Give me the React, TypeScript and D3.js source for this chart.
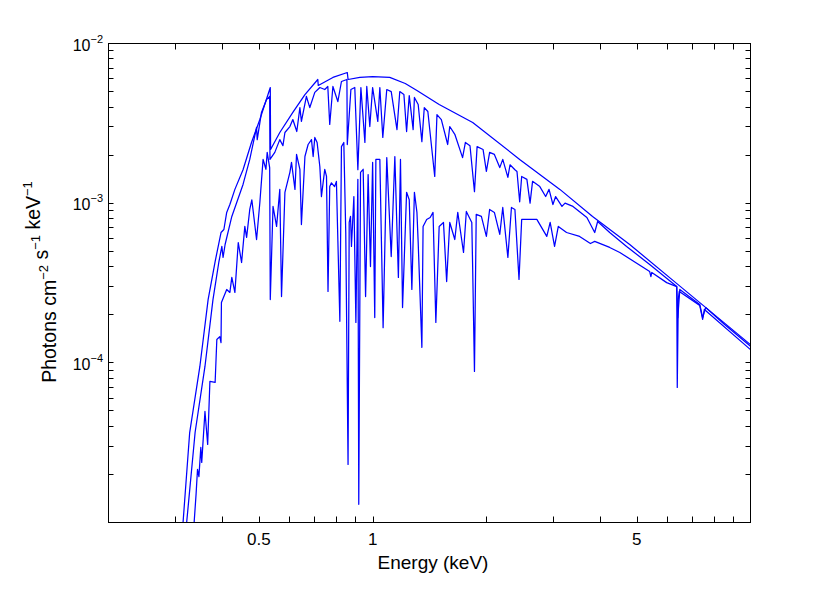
import React, { useEffect, useRef } from 'react';
import * as d3 from 'd3';

// absorbed continuum (no lines) - energy in keV, flux in photons/cm2/s/keV
const contE = [0.311, 0.315, 0.328, 0.349, 0.367, 0.383, 0.397, 0.404, 0.411, 0.419, 0.432, 0.454, 0.478, 0.503, 0.536,
  0.537, 0.568, 0.615, 0.662, 0.716, 0.718, 0.785, 0.857, 0.861, 0.925, 1.0, 1.11, 1.22, 1.31, 1.50, 1.84, 2.45, 3.13,
  3.82, 4.79, 6.42, 10.0];
const contF = [7.84e-6, 1.0e-5, 3.66e-5, 9.49e-5, 2.49e-4, 4.31e-4, 6.55e-4, 6.84e-4, 8.75e-4, 9.81e-4, 1.22e-3, 1.62e-3,
  2.40e-3, 3.34e-3, 5.30e-3, 2.17e-3, 2.77e-3, 3.70e-3, 4.79e-3, 5.95e-3, 5.46e-3, 6.13e-3, 6.58e-3, 5.95e-3, 6.13e-3,
  6.21e-3, 6.13e-3, 5.62e-3, 5.08e-3, 4.15e-3, 3.20e-3, 1.88e-3, 1.22e-3, 8.26e-4, 5.51e-4, 3.10e-4, 1.30e-4];

// spectrum with weak absorption lines
const weakE = [0.318, 0.322, 0.339, 0.360, 0.378, 0.392, 0.399, 0.402, 0.407, 0.424, 0.454, 0.473, 0.493, 0.495, 0.508,
  0.524, 0.534, 0.535, 0.551, 0.568, 0.579, 0.586, 0.604, 0.615, 0.630, 0.642, 0.648, 0.668, 0.682, 0.703, 0.716, 0.725,
  0.747, 0.761, 0.770, 0.785, 0.809, 0.827, 0.855, 0.857, 0.876, 0.897, 0.914, 0.931, 0.954, 0.965, 0.983, 1.00, 1.032,
  1.045, 1.064, 1.09, 1.12, 1.16, 1.18, 1.21, 1.23, 1.25, 1.28, 1.29, 1.32, 1.35, 1.37, 1.40, 1.46, 1.48, 1.52, 1.58,
  1.60, 1.65, 1.73, 1.76, 1.81, 1.86, 1.89, 1.96, 2.00, 2.04, 2.10, 2.17, 2.21, 2.28, 2.31, 2.38, 2.41, 2.45, 2.48, 2.56,
  2.61, 2.65, 2.77, 2.87, 2.93, 3.00, 3.05, 3.17, 3.23, 3.39, 3.69, 3.87, 3.94, 4.24, 4.70, 5.41, 6.38, 6.42, 6.50, 7.34,
  7.47, 7.61, 8.54, 10.0];
const weakF = [7.84e-6, 1.0e-5, 3.66e-5, 9.49e-5, 2.49e-4, 4.31e-4, 5.36e-4, 4.57e-4, 5.51e-4, 8.26e-4, 1.31e-3, 1.88e-3,
  2.98e-3, 2.50e-3, 3.70e-3, 4.46e-3, 4.66e-3, 1.88e-3, 2.08e-3, 2.50e-3, 2.29e-3, 2.77e-3, 3.02e-3, 3.34e-3, 2.81e-3,
  3.97e-3, 3.25e-3, 4.66e-3, 3.97e-3, 4.94e-3, 5.15e-3, 5.30e-3, 5.15e-3, 5.38e-3, 3.11e-3, 5.38e-3, 4.33e-3, 5.78e-3,
  5.95e-3, 2.33e-3, 5.15e-3, 5.30e-3, 1.62e-3, 5.30e-3, 2.40e-3, 5.38e-3, 3.02e-3, 5.30e-3, 3.25e-3, 5.30e-3, 2.58e-3,
  5.15e-3, 5.00e-3, 2.89e-3, 5.00e-3, 4.79e-3, 2.81e-3, 4.72e-3, 2.89e-3, 4.59e-3, 4.15e-3, 2.43e-3, 3.97e-3, 3.75e-3,
  1.47e-3, 3.59e-3, 3.34e-3, 2.33e-3, 3.02e-3, 2.70e-3, 1.93e-3, 2.40e-3, 2.29e-3, 1.18e-3, 2.26e-3, 2.17e-3, 1.58e-3,
  2.08e-3, 2.02e-3, 1.67e-3, 1.88e-3, 1.45e-3, 1.74e-3, 1.62e-3, 1.58e-3, 1.02e-3, 1.47e-3, 1.41e-3, 1.00e-3, 1.37e-3,
  1.27e-3, 1.10e-3, 1.22e-3, 9.81e-4, 1.10e-3, 9.54e-4, 1.00e-3, 9.54e-4, 8.14e-4, 6.55e-4, 7.68e-4, 6.55e-4, 5.36e-4,
  4.13e-4, 3.01e-4, 1.92e-4, 2.88e-4, 2.32e-4, 1.92e-4, 2.22e-4, 1.74e-4, 1.27e-4];

// spectrum with strong absorption lines
const strongE = [0.335, 0.337, 0.341, 0.344, 0.347, 0.351, 0.353, 0.360, 0.366, 0.371, 0.383, 0.387, 0.394, 0.397, 0.398,
  0.411, 0.419, 0.424, 0.432, 0.441, 0.450, 0.459, 0.464, 0.473, 0.479, 0.493, 0.503, 0.513, 0.522, 0.526, 0.534, 0.536,
  0.545, 0.551, 0.557, 0.568, 0.574, 0.586, 0.604, 0.610, 0.623, 0.629, 0.642, 0.648, 0.662, 0.675, 0.689, 0.696, 0.703,
  0.713, 0.725, 0.732, 0.747, 0.755, 0.762, 0.770, 0.778, 0.793, 0.802, 0.819, 0.827, 0.839, 0.849, 0.861, 0.867, 0.874,
  0.879, 0.892, 0.903, 0.914, 0.919, 0.929, 0.944, 0.958, 0.973, 0.987, 1.00, 1.013, 1.02, 1.045, 1.066, 1.09, 1.12,
  1.145, 1.17, 1.185, 1.20, 1.23, 1.25, 1.27, 1.29, 1.31, 1.32, 1.35, 1.36, 1.39, 1.42, 1.445, 1.47, 1.50, 1.54, 1.57,
  1.60, 1.65, 1.68, 1.74, 1.77, 1.83, 1.84, 1.86, 1.88, 1.94, 2.00, 2.04, 2.10, 2.17, 2.21, 2.28, 2.33, 2.38, 2.44, 2.48,
  2.72, 2.89, 2.95, 3.03, 3.10, 3.26, 3.53, 3.77, 3.87, 4.24, 4.51, 5.41, 5.45, 5.48, 6.00, 6.38, 6.40, 6.44, 6.48, 7.34,
  7.47, 7.55, 10.0];
const strongF = [7.29e-6, 1.0e-5, 1.50e-5, 2.15e-5, 1.94e-5, 2.95e-5, 2.38e-5, 4.96e-5, 3.08e-5, 7.65e-5, 7.54e-5,
  1.40e-4, 1.46e-4, 1.34e-4, 2.39e-4, 2.88e-4, 2.76e-4, 3.43e-4, 2.76e-4, 5.67e-4, 4.25e-4, 7.15e-4, 6.10e-4, 9.13e-4,
  1.05e-3, 5.92e-4, 1.01e-3, 1.88e-3, 1.63e-3, 2.08e-3, 1.67e-3, 2.49e-4, 9.54e-4, 8.26e-4, 7.15e-4, 1.22e-3, 2.60e-4,
  1.17e-3, 1.56e-3, 1.80e-3, 1.22e-3, 2.02e-3, 1.63e-3, 7.35e-4, 1.96e-3, 2.33e-3, 2.50e-3, 1.96e-3, 2.58e-3, 2.40e-3,
  1.69e-3, 1.10e-3, 1.63e-3, 1.47e-3, 2.80e-4, 1.27e-3, 1.34e-3, 1.27e-3, 1.37e-3, 1.82e-4, 2.26e-3, 2.40e-3, 6.55e-4,
  2.31e-5, 7.57e-4, 8.26e-4, 5.36e-4, 1.10e-3, 1.79e-4, 1.41e-3, 1.30e-5, 1.56e-3, 1.63e-3, 2.60e-4, 1.51e-3, 4.01e-4,
  1.80e-3, 1.92e-4, 1.88e-3, 1.88e-3, 1.66e-4, 1.93e-3, 4.63e-4, 1.96e-3, 3.43e-4, 1.88e-3, 2.22e-4, 1.17e-3, 1.05e-3,
  2.88e-4, 1.17e-3, 8.75e-4, 5.67e-4, 1.25e-4, 7.15e-4, 7.90e-4, 8.14e-4, 8.75e-4, 1.79e-4, 7.15e-4, 7.57e-4, 3.23e-4,
  7.57e-4, 5.92e-4, 8.75e-4, 4.91e-4, 8.87e-4, 7.57e-4, 3.84e-4, 8.83e-5, 8.50e-4, 8.26e-4, 6.19e-4, 9.13e-4, 8.75e-4,
  6.37e-4, 9.40e-4, 4.57e-4, 9.40e-4, 9.13e-4, 3.33e-4, 7.91e-4, 7.91e-4, 6.19e-4, 7.57e-4, 5.36e-4, 7.15e-4, 6.55e-4,
  6.19e-4, 5.59e-4, 5.76e-4, 5.28e-4, 4.91e-4, 3.73e-4, 3.47e-4, 3.68e-4, 3.18e-4, 3.00e-4, 7.01e-5, 2.49e-4, 2.80e-4,
  2.29e-4, 1.87e-4, 2.16e-4, 1.21e-4];

const xTickValues = [0.2, 0.3, 0.4, 0.5, 0.6, 0.7, 0.8, 0.9, 1, 2, 3, 4, 5, 6, 7, 8, 9, 10];
const xTickLabels = [0.5, 1, 5];
const yDecades = [-5, -4, -3];
const yLabelExps = [-2, -3, -4];

export default function App() {
  const svgRef = useRef<SVGSVGElement>(null);

  useEffect(() => {
    const svg = d3.select(svgRef.current);
    svg.selectAll('*').remove();
    const font = '"Liberation Sans", Arial, Helvetica, sans-serif';

    const x = d3.scaleLog().domain([0.2, 10]).range([108.5, 750.5]);
    const y = d3.scaleLog().domain([1e-5, 1e-2]).range([522.5, 43.5]);
    const [x0, x1] = x.range();
    const [y0, y1] = y.range();

    svg.append('defs').append('clipPath').attr('id', 'plotclip')
      .append('rect').attr('x', x0).attr('y', y1).attr('width', x1 - x0).attr('height', y0 - y1);

    const line = d3.line<[number, number]>().x(d => x(d[0])).y(d => y(d[1]));
    const series = [
      d3.zip(contE, contF),
      d3.zip(weakE, weakF),
      d3.zip(strongE, strongF),
    ] as [number, number][][];

    svg.append('g').attr('clip-path', 'url(#plotclip)')
      .selectAll('path').data(series).enter().append('path')
      .attr('d', d => line(d))
      .attr('fill', 'none')
      .attr('stroke', '#0000ff')
      .attr('stroke-width', 1.25)
      .attr('stroke-linejoin', 'round');

    // frame
    svg.append('rect').attr('x', x0).attr('y', y1).attr('width', x1 - x0).attr('height', y0 - y1)
      .attr('fill', 'none').attr('stroke', '#000').attr('stroke-width', 1);

    const ticks = svg.append('g').attr('stroke', '#000').attr('stroke-width', 1);
    xTickValues.slice(1, -1).forEach(v => {
      const px = Math.round(x(v)) + 0.5;
      ticks.append('line').attr('x1', px).attr('x2', px).attr('y1', y0).attr('y2', y0 - 6);
      ticks.append('line').attr('x1', px).attr('x2', px).attr('y1', y1).attr('y2', y1 + 6);
    });
    const yTickValues: number[] = [];
    yDecades.forEach(k => d3.range(1, 10).forEach(m => yTickValues.push(m * Math.pow(10, k))));
    yTickValues.slice(1).forEach(v => {
      const py = Math.round(y(v) - 0.5) + 0.5;
      ticks.append('line').attr('x1', x0).attr('x2', x0 + 5).attr('y1', py).attr('y2', py);
      ticks.append('line').attr('x1', x1).attr('x2', x1 - 5).attr('y1', py).attr('y2', py);
    });

    svg.append('g').selectAll('text').data(xTickLabels).enter().append('text')
      .attr('x', d => x(d)).attr('y', 545)
      .attr('text-anchor', 'middle')
      .style('font-family', font).style('font-size', '17px')
      .text(d => String(d));

    const yl = svg.append('g').selectAll('text').data(yLabelExps).enter().append('text')
      .attr('x', 103).attr('y', d => y(Math.pow(10, d)) + 7)
      .attr('text-anchor', 'end')
      .style('font-family', font).style('font-size', '16px');
    yl.append('tspan').text('10');
    yl.append('tspan').attr('dy', -8).style('font-size', '11px').text(d => '\u2212' + Math.abs(d));

    svg.append('text').attr('x', 433).attr('y', 569)
      .attr('text-anchor', 'middle')
      .style('font-family', font).style('font-size', '19px')
      .text('Energy (keV)');

    const ylab = svg.append('text')
      .attr('transform', `translate(56,282) rotate(-90)`)
      .attr('text-anchor', 'middle')
      .style('font-family', font).style('font-size', '19.5px');
    const parts: [string, string][] = [['Photons cm', '\u22122'], [' s', '\u22121'], [' keV', '\u22121']];
    parts.forEach(([t, s]) => {
      ylab.append('tspan').attr('dy', 0).text(t);
      ylab.append('tspan').attr('dy', -8).style('font-size', '13px').text(s);
      ylab.append('tspan').attr('dy', 8).text('');
    });
  }, []);

  return (
    <svg ref={svgRef} width={830} height={589}
      style={{ position: 'absolute', left: 0, top: 0, background: '#fff' }}></svg>
  );
}
